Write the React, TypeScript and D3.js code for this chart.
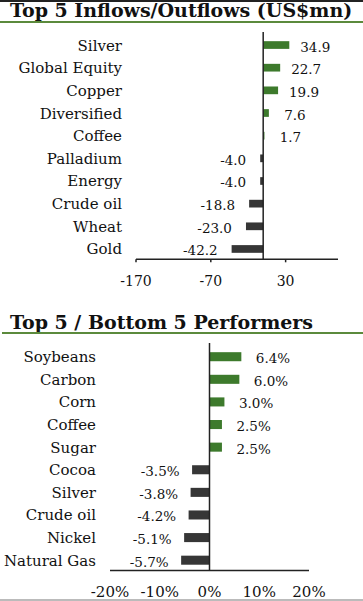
import * as d3 from 'd3'

const flowCats = ['Silver', 'Global Equity', 'Copper', 'Diversified', 'Coffee', 'Palladium', 'Energy', 'Crude oil', 'Wheat', 'Gold']
const flowVals = [34.9, 22.7, 19.9, 7.6, 1.7, -4.0, -4.0, -18.8, -23.0, -42.2]
const flowTicks = [-170, -70, 30]

const perfCats = ['Soybeans', 'Carbon', 'Corn', 'Coffee', 'Sugar', 'Cocoa', 'Silver', 'Crude oil', 'Nickel', 'Natural Gas']
const perfVals = [6.4, 6.0, 3.0, 2.5, 2.5, -3.5, -3.8, -4.2, -5.1, -5.7]
const perfTicks = [-20, -10, 0, 10, 20]

const GREEN = '#3d7a2c'
const DARK = '#363636'
const FONT = 'DejaVu Serif'

function BarPanel({ cats, vals, xDomain, xRange, yRange, ticks, tickFmt, valFmt, labelX, pad, tickSize, tickY, posOff, negOff, axisTop, showTicks }) {
  const x = d3.scaleLinear().domain(xDomain).range(xRange)
  const y = d3.scaleBand().domain(cats).range(yRange).paddingInner(pad).paddingOuter(pad / 2)
  const bw = y.bandwidth()
  const x0 = x(0)
  const axisY = yRange[1] - 1
  return (
    <g>
      {cats.map((c, i) => {
        const v = vals[i]
        const cy = y(c) + bw / 2
        return (
          <g key={c}>
            <text x={labelX} y={cy + 5.5} textAnchor="end" fontSize={15} fontFamily={FONT} fill="#111">{c}</text>
            <rect x={Math.min(x(v), x0)} y={y(c)} width={Math.abs(x(v) - x0)} height={bw} fill={v >= 0 ? GREEN : DARK} />
            <text
              x={v >= 0 ? x(v) + posOff : x(v) - negOff}
              y={cy + 6.5}
              textAnchor={v >= 0 ? (posOff > 20 ? 'middle' : 'start') : 'end'}
              fontSize={13.5}
              fontFamily={FONT}
              fill="#111"
            >{valFmt(v)}</text>
          </g>
        )
      })}
      <line x1={x0} x2={x0} y1={axisTop} y2={axisY} stroke="#222" strokeWidth={1.5} />
      <line x1={xRange[0]} x2={xRange[1]} y1={axisY} y2={axisY} stroke="#222" strokeWidth={1.5} />
      {ticks.map(t => (
        <g key={t}>
          {showTicks && <line x1={x(t)} x2={x(t)} y1={axisY} y2={axisY + 3} stroke="#222" strokeWidth={1.5} />}
          <text x={x(t)} y={tickY} textAnchor="middle" fontSize={tickSize} fontFamily={FONT} fill="#111">{tickFmt(t)}</text>
        </g>
      ))}
    </g>
  )
}

export default function App() {
  return (
    <svg width={363} height={601} style={{ position: 'absolute', left: 0, top: 0, background: '#fff' }}>
      <rect x={0} y={0} width={363} height={2} fill="#222" />
      <text x={10} y={17} fontSize={19} fontWeight="bold" fontFamily={FONT} fill="#111">Top 5 Inflows/Outflows (US$mn)</text>
      <rect x={0} y={21} width={363} height={2} fill="#5b8a3c" />
      <BarPanel
        cats={flowCats}
        vals={flowVals}
        xDomain={[-170, 100]}
        xRange={[136, 338]}
        yRange={[33.7, 260.3]}
        ticks={flowTicks}
        tickFmt={d => String(d)}
        valFmt={v => v.toFixed(1)}
        labelX={122}
        pad={0.66}
        tickSize={14}
        tickY={286}
        posOff={26}
        negOff={14}
        axisTop={32}
        showTicks={true}
      />
      <text x={10} y={329} fontSize={19} fontWeight="bold" fontFamily={FONT} fill="#111">Top 5 / Bottom 5 Performers</text>
      <rect x={2} y={332} width={361} height={2} fill="#5b8a3c" />
      <BarPanel
        cats={perfCats}
        vals={perfVals}
        xDomain={[-20, 20]}
        xRange={[110, 309]}
        yRange={[345.4, 571.5]}
        ticks={perfTicks}
        tickFmt={d => d + '%'}
        valFmt={v => v.toFixed(1) + '%'}
        labelX={96}
        pad={0.6}
        tickSize={15}
        tickY={597}
        posOff={14.5}
        negOff={12.5}
        axisTop={343}
        showTicks={false}
      />
      <rect x={0} y={599} width={363} height={2} fill="#bbb" />
    </svg>
  )
}
